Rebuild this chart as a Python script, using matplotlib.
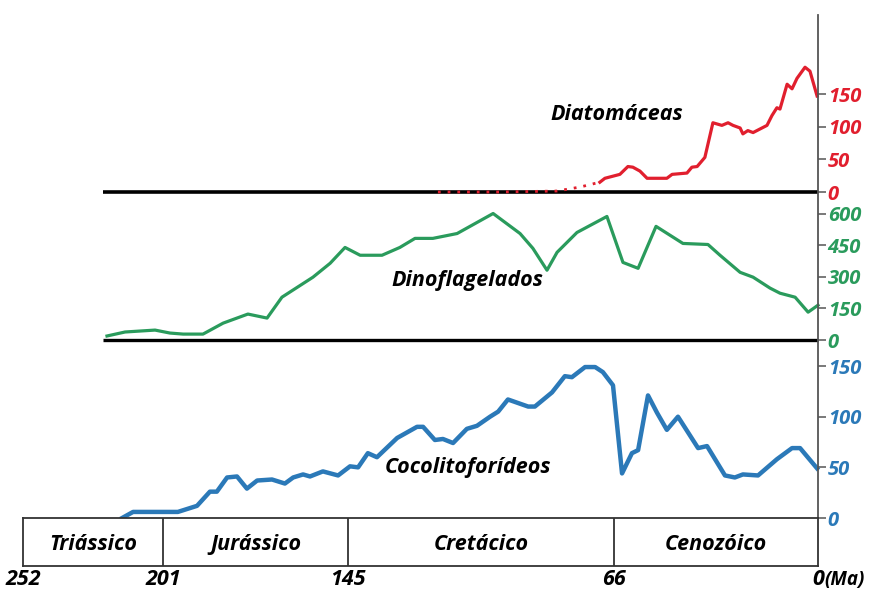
import numpy as np
import matplotlib.pyplot as plt

# ages in Ma
diat_dot_age = [118.3, 100.0, 82.9, 76.1, 70.2]
diat_dot_val = [0, 0, 1.5, 7.6, 15]
diat_age = [70.2, 68.7, 64.1, 61.5, 59.9, 57.6, 55.3, 48.9, 47.2, 42.4, 40.8, 39.1,
            36.6, 34.0, 31.1, 29.1, 27.5, 25.2, 24.3, 22.7, 21.0, 16.5, 14.9, 13.3,
            12.3, 10.0, 8.4, 6.8, 4.2, 2.6, 0.3]
diat_val = [15, 21, 27, 39, 38, 32, 21, 21, 27, 29, 38, 39,
            53, 106, 102, 106, 102, 98, 89, 94, 91, 102, 117, 129,
            127, 165, 158, 174, 191, 185, 147]

dino_age = [221.4, 214.8, 203.9, 198.9, 194.9, 188.9, 182.8, 175.3, 169.5, 165.0,
            155.6, 150.4, 145.9, 141.4, 134.9, 129.6, 125.1, 119.8, 112.6, 101.9,
            93.9, 90.1, 85.9, 82.9, 77.0, 68.1, 63.1, 58.2, 52.4, 43.7, 35.6, 31.7,
            25.2, 21.0, 15.5, 12.3, 7.4, 3.2, 0.0]
dino_val = [19, 38, 47, 33, 28, 28, 80, 123, 104, 203,
            298, 364, 439, 402, 402, 439, 482, 482, 505, 600,
            505, 435, 331, 416, 510, 586, 368, 340, 539, 458, 453, 402,
            321, 298, 246, 222, 203, 132, 165]

cocco_age = [215.9, 211.9, 196.5, 190.7, 186.8, 184.7, 181.6, 178.6, 175.6, 172.5,
             168.0, 164.1, 161.6, 158.6, 156.5, 152.6, 148.0, 144.4, 142.0, 139.1,
             136.4, 130.4, 124.5, 122.7, 119.2, 116.8, 113.8, 109.7, 106.7, 102.8,
             100.4, 97.5, 91.5, 89.5, 84.4, 80.6, 78.5, 74.6, 71.6, 69.3, 66.3,
             63.4, 60.2, 58.2, 55.0, 52.1, 48.9, 45.3, 38.8, 35.9, 30.1, 26.9,
             24.3, 19.4, 13.3, 8.4, 5.8, 0.3]
cocco_val = [0, 6, 6, 12, 26, 26, 40, 41, 29, 37,
             38, 34, 40, 43, 41, 46, 42, 51, 50, 64,
             60, 79, 90, 90, 77, 78, 74, 88, 91, 100,
             105, 117, 110, 110, 124, 140, 139, 149, 149, 144, 131,
             44, 64, 67, 121, 104, 87, 100, 69, 71, 42, 40,
             43, 42, 58, 69, 69, 49]

periods = ["Triássico", "Jurássico", "Cretácico", "Cenozóico"]
bounds = [252, 201, 145, 66, 0]
bound_labels = ["252", "201", "145", "66", "0"]

# time scale is not linear in the original; piecewise mapping
scale_age = [0, 66, 145, 201, 252]
scale_pos = [0, 204, 470, 655, 795]


def fwd(a):
    return np.interp(a, scale_age, scale_pos)


def inv(p):
    return np.interp(p, scale_pos, scale_age)


FONT = "Open Sans"
W, H = 869, 592
fig = plt.figure(figsize=(W / 100, H / 100), dpi=100)


def fx(px):
    return px / W


def fy(py):
    return 1 - py / H


left, right = fx(23), fx(818)


def panel(top, bottom, ymax, ticks, color):
    ax = fig.add_axes([left, fy(bottom), right - left, fy(top) - fy(bottom)])
    ax.set_xscale("function", functions=(fwd, inv))
    ax.set_xlim(252, 0)
    ax.set_ylim(0, ymax)
    ax.patch.set_alpha(0)
    for s in ["left", "top", "bottom"]:
        ax.spines[s].set_visible(False)
    ax.spines["right"].set_color("#555555")
    ax.spines["right"].set_linewidth(1.3)
    ax.set_xticks([])
    ax.yaxis.tick_right()
    ax.set_yticks(ticks)
    ax.tick_params(axis="y", length=6, width=1.1, color="#555555", pad=1,
                   labelcolor=color, labelsize=14.5)
    for lab in ax.get_yticklabels():
        lab.set_fontfamily(FONT)
        lab.set_fontweight("bold")
        lab.set_fontstyle("italic")
    return ax


red, green, blue = "#e11f2e", "#2a9b5c", "#2b79b8"

ax1 = panel(15, 192, 271, [0, 50, 100, 150], red)
ax1.hlines(0, 223, 0, color="black", lw=2.6, clip_on=False)
ax1.plot(diat_dot_age, diat_dot_val, color=red, lw=2, ls=(0, (1, 2.5)), clip_on=False)
ax1.plot(diat_age, diat_val, color=red, lw=2.3, clip_on=False)

ax2 = panel(192, 340, 702, [0, 150, 300, 450, 600], green)
ax2.hlines(0, 223, 0, color="black", lw=2.4, clip_on=False)
ax2.plot(dino_age, dino_val, color=green, lw=2.3, clip_on=False)

ax3 = panel(340, 518, 175.7, [0, 50, 100, 150], blue)
ax3.plot(cocco_age, cocco_val, color=blue, lw=3.2, clip_on=False)

# geological periods band
axp = fig.add_axes([left, fy(566), right - left, fy(518) - fy(566)])
axp.set_xscale("function", functions=(fwd, inv))
axp.set_xlim(252, 0)
axp.set_ylim(0, 1)
for s in axp.spines.values():
    s.set_color("#333333")
    s.set_linewidth(1.3)
axp.set_yticks([])
for b in bounds[1:-1]:
    axp.axvline(b, color="#333333", lw=1.3)
for i, name in enumerate(periods):
    mid = inv((fwd(bounds[i]) + fwd(bounds[i + 1])) / 2)
    axp.text(mid, 0.44, name, ha="center", va="center", fontsize=15.5,
             fontfamily=FONT, fontweight="bold", fontstyle="italic")
axp.set_xticks(bounds)
axp.set_xticklabels(bound_labels)
axp.tick_params(axis="x", length=0, pad=2, labelsize=15.5)
for lab in axp.get_xticklabels():
    lab.set_fontfamily(FONT)
    lab.set_fontweight("bold")
    lab.set_fontstyle("italic")
fig.text(fx(824), fy(580), "(Ma)", ha="left", va="center", fontsize=13.5,
         fontfamily=FONT, fontweight="bold", fontstyle="italic")

lab_kw = dict(ha="center", va="center", fontsize=15.5, fontfamily=FONT,
              fontweight="bold", fontstyle="italic")
fig.text(fx(617), fy(114), "Diatomáceas", **lab_kw)
fig.text(fx(467), fy(280), "Dinoflagelados", **lab_kw)
fig.text(fx(468), fy(468), "Cocolitoforídeos", **lab_kw)

fig.savefig("out.png", dpi=100)
